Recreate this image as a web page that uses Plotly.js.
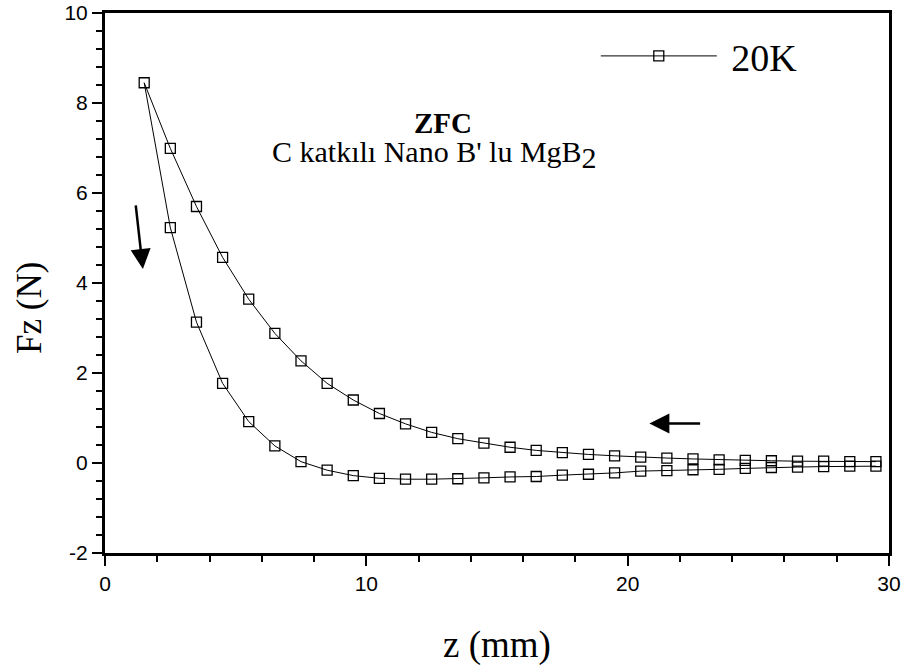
<!DOCTYPE html>
<html>
<head>
<meta charset="utf-8">
<script src="https://cdn.plot.ly/plotly-3.0.1.min.js"></script>
<style>html,body{margin:0;padding:0;background:#fff}#chart{width:907px;height:665px}</style>
</head>
<body>
<div id="chart"></div>
<script>
// Upper branch (z decreasing toward the magnet)
const zUpper = [29.5,28.5,27.5,26.5,25.5,24.5,23.5,22.5,21.5,20.5,19.5,18.5,17.5,16.5,15.5,14.5,13.5,12.5,11.5,10.5,9.5,8.5,7.5,6.5,5.5,4.5,3.5,2.5,1.5];
const fUpper = [0.03,0.03,0.04,0.04,0.05,0.06,0.07,0.09,0.11,0.13,0.16,0.19,0.23,0.28,0.35,0.44,0.54,0.68,0.87,1.10,1.40,1.77,2.27,2.88,3.64,4.57,5.70,6.99,8.45];
// Lower branch
const zLower = [2.5,3.5,4.5,5.5,6.5,7.5,8.5,9.5,10.5,11.5,12.5,13.5,14.5,15.5,16.5,17.5,18.5,19.5,20.5,21.5,22.5,23.5,24.5,25.5,26.5,27.5,28.5,29.5];
const fLower = [5.23,3.13,1.77,0.92,0.38,0.03,-0.16,-0.28,-0.34,-0.36,-0.36,-0.35,-0.33,-0.31,-0.30,-0.27,-0.25,-0.22,-0.18,-0.17,-0.15,-0.14,-0.12,-0.10,-0.09,-0.08,-0.07,-0.07];
const seriesName = '20K';
const xTicks = [0,10,20,30];
const yTicks = [-2,0,2,4,6,8,10];
const xTitle = 'z (mm)';
const yTitle = 'Fz (N)';

const trace = {
  x: zUpper.concat(zLower),
  y: fUpper.concat(fLower),
  type: 'scatter',
  mode: 'lines+markers',
  name: '\u00A0' + seriesName,
  line: {color: '#000', width: 1},
  marker: {symbol: 'square-open', size: 10, color: '#000', line: {width: 1.3, color: '#000'}}
};

const tickFont = {family: 'Liberation Sans, Arial, sans-serif', size: 21, color: '#000'};
const serif = 'Liberation Serif, Times New Roman, serif';

const layout = {
  width: 907, height: 665,
  margin: {l: 105, r: 18, t: 13, b: 112},
  paper_bgcolor: '#fff', plot_bgcolor: '#fff',
  showlegend: true,
  legend: {x: 0.626, y: 0.92, xanchor: 'left', yanchor: 'middle', itemwidth: 116,
           font: {family: serif, size: 38, color: '#000'}, bgcolor: 'rgba(0,0,0,0)'},
  xaxis: {
    range: [0, 30], tickvals: xTicks, ticktext: xTicks.map(String),
    ticks: 'outside', ticklen: 10, tickwidth: 2, tickcolor: '#000',
    minor: {dtick: 2, ticks: 'outside', ticklen: 6, tickwidth: 2, tickcolor: '#000'},
    showline: true, linewidth: 3, linecolor: '#000', mirror: true,
    showgrid: false, zeroline: false, tickfont: tickFont
  },
  yaxis: {
    range: [-2, 10], tickvals: yTicks, ticktext: yTicks.map(String),
    ticks: 'outside', ticklen: 10, tickwidth: 2, tickcolor: '#000',
    minor: {dtick: 0.4, ticks: 'outside', ticklen: 6, tickwidth: 2, tickcolor: '#000'},
    showline: true, linewidth: 3, linecolor: '#000', mirror: true,
    showgrid: false, zeroline: false, tickfont: tickFont
  },
  annotations: [
    {x: 497, y: 645, xref: 'paper', yref: 'paper', xanchor: 'center', yanchor: 'middle',
     text: xTitle, showarrow: false, font: {family: serif, size: 37, color: '#000'}},
    {x: 29, y: 308, xref: 'paper', yref: 'paper', xanchor: 'center', yanchor: 'middle',
     text: yTitle, showarrow: false, textangle: -90, font: {family: serif, size: 35, color: '#000'}},
    {x: 12.95, y: 7.55, xref: 'x', yref: 'y', text: '<b>ZFC</b>', showarrow: false,
     font: {family: serif, size: 29, color: '#000'}},
    {x: 12.6, y: 6.85, xref: 'x', yref: 'y', text: "C katkılı Nano B' lu MgB<sub><span style=\"font-size:30px\">2</span></sub>", showarrow: false,
     font: {family: serif, size: 30, color: '#000'}},
    {x: 1.45, y: 4.31, ax: 1.17, ay: 5.76, xref: 'x', yref: 'y', axref: 'x', ayref: 'y',
     text: '', showarrow: true, arrowhead: 2, arrowsize: 1.6, arrowwidth: 2.5, arrowcolor: '#000'},
    {x: 20.83, y: 0.88, ax: 22.83, ay: 0.88, xref: 'x', yref: 'y', axref: 'x', ayref: 'y',
     text: '', showarrow: true, arrowhead: 2, arrowsize: 1.6, arrowwidth: 2.5, arrowcolor: '#000'}
  ]
};

// convert pixel-positioned title annotations to paper coordinates
const pw = 907 - 105 - 18, ph = 665 - 13 - 112;
layout.annotations.slice(0, 2).forEach(a => {
  a.x = (a.x - 105) / pw;
  a.y = (665 - 112 - a.y) / ph;
});

Plotly.newPlot('chart', [trace], layout, {displayModeBar: false, staticPlot: true});
</script>
</body>
</html>
